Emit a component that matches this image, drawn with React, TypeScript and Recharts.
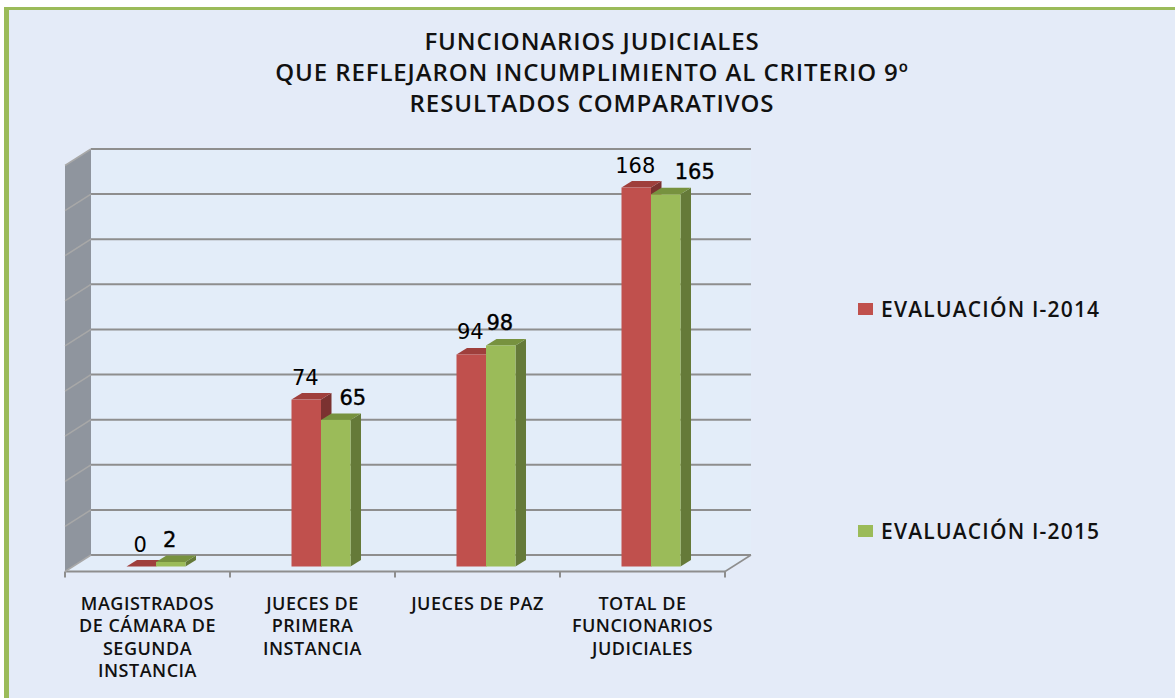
import { BarChart, Bar, XAxis, YAxis, CartesianGrid, LabelList, Legend, ReferenceArea } from 'recharts'

const categories = [
  ['MAGISTRADOS', 'DE CÁMARA DE', 'SEGUNDA', 'INSTANCIA'],
  ['JUECES DE', 'PRIMERA', 'INSTANCIA'],
  ['JUECES DE PAZ'],
  ['TOTAL DE', 'FUNCIONARIOS', 'JUDICIALES'],
]
const evaluacion2014 = [0, 74, 94, 168]
const evaluacion2015 = [2, 65, 98, 165]
const yTicks = [0, 20, 40, 60, 80, 100, 120, 140, 160, 180]
const titleLines = [
  'FUNCIONARIOS JUDICIALES',
  'QUE REFLEJARON INCUMPLIMIENTO AL CRITERIO 9º',
  'RESULTADOS COMPARATIVOS',
]

const rows = categories.map((lines, i) => ({
  name: lines.join(' '),
  e2014: evaluacion2014[i],
  e2015: evaluacion2015[i],
}))

const FONT = '"Open Sans", sans-serif'
const TEXT_COLOR = '#111'
const RED = { front: '#c0504d', top: '#9f3f3c', side: '#7b3230' }
const GREEN = { front: '#9bbb59', top: '#77923f', side: '#657a39' }

// the bars stand mid-way in the fake 3D box: back wall is up-right of them,
// the front edge of the floor down-left
const BACK_DX = 17.5
const BACK_DY = -11.5
const FRONT_DX = -8.5
const FRONT_DY = 5
const BAR_DX = 10.5
const BAR_DY = 6.5
const GRID_COLOR = '#8e8e8e'

// hand-moved data labels in the original, by category index
const SHIFT_2015: Record<number, number> = { 1: 18, 3: 30 }

function Box3D({ x, y, width, height }: any) {
  const bottom = y + height
  const backL = x + BACK_DX
  const backR = x + width + BACK_DX
  const frontL = x + FRONT_DX
  const frontR = x + width + FRONT_DX
  const backB = bottom + BACK_DY
  const backT = y + BACK_DY
  const frontB = bottom + FRONT_DY
  return (
    <g>
      <polygon points={`${backL},${backT} ${backR},${backT} ${backR},${backB} ${frontR},${frontB} ${frontL},${frontB} ${backL},${backB}`} fill="#e3edf9" />
      <polygon points={`${frontL},${y + FRONT_DY} ${backL},${backT} ${backL},${backB} ${frontL},${frontB}`} fill="#8f959e" />
      <line x1={frontL} y1={frontB} x2={frontR} y2={frontB} stroke={GRID_COLOR} strokeWidth={2} />
      <line x1={frontR} y1={frontB} x2={backR} y2={backB} stroke={GRID_COLOR} strokeWidth={1.5} />
      {[0, 1, 2, 3, 4].map((k) => {
        const tx = frontL + (k * width) / 4
        return <line key={k} x1={tx} y1={frontB} x2={tx} y2={frontB + 6} stroke={GRID_COLOR} strokeWidth={2} />
      })}
    </g>
  )
}

function GridLine({ x1, y1, x2, y2 }: any) {
  return (
    <g>
      <line x1={x1 + BACK_DX} y1={y1 + BACK_DY} x2={x2 + BACK_DX} y2={y2 + BACK_DY} stroke={GRID_COLOR} strokeWidth={2} />
      <line x1={x1 + FRONT_DX} y1={y1 + FRONT_DY} x2={x1 + BACK_DX} y2={y1 + BACK_DY} stroke="#a8a8a8" strokeWidth={1.5} />
    </g>
  )
}

function Bar3D({ x, y, width, height, colors }: any) {
  const r = x + width
  const b = y + height
  return (
    <g>
      <polygon points={`${r},${y} ${r + BAR_DX},${y - BAR_DY} ${r + BAR_DX},${b - BAR_DY} ${r},${b}`} fill={colors.side} />
      <polygon points={`${x},${y} ${x + BAR_DX},${y - BAR_DY} ${r + BAR_DX},${y - BAR_DY} ${r},${y}`} fill={colors.top} />
      <rect x={x} y={y} width={width} height={height} fill={colors.front} />
    </g>
  )
}

function ValueLabel({ x, y, width, value, index, shifts, heavy }: any) {
  const dx = shifts?.[index] ?? 0
  return (
    <text
      x={x + width / 2 + dx - 1}
      y={y - 15}
      textAnchor="middle"
      fontFamily='"DejaVu Sans", sans-serif'
      fontSize={21}
      fill="#000"
      stroke={heavy ? '#000' : 'none'}
      strokeWidth={heavy ? 0.4 : 0}
    >
      {value}
    </text>
  )
}

function CategoryTick({ x, y, index }: any) {
  const lines = categories[index] ?? []
  return (
    <text textAnchor="middle" fontFamily={FONT} fontSize={18} fontWeight={600} letterSpacing={0.5} fill={TEXT_COLOR}>
      {lines.map((line, i) => (
        <tspan key={line} x={x - 8.5} y={y + 35 + i * 22.5}>
          {line}
        </tspan>
      ))}
    </text>
  )
}

function LegendBox() {
  const items = [
    { label: 'EVALUACIÓN I-2014', color: RED.front, top: 300 },
    { label: 'EVALUACIÓN I-2015', color: GREEN.front, top: 522 },
  ]
  return (
    <div>
      {items.map((it) => (
        <div
          key={it.label}
          style={{ position: 'absolute', left: 0, top: it.top, display: 'flex', alignItems: 'center', height: 18, whiteSpace: 'nowrap' }}
        >
          <span style={{ width: 15, height: 12, background: it.color, marginRight: 8 }} />
          <span style={{ fontFamily: FONT, fontSize: 21, fontWeight: 600, letterSpacing: 1.2, color: TEXT_COLOR }}>{it.label}</span>
        </div>
      ))}
    </div>
  )
}

export default function App() {
  return (
    <div style={{ position: 'absolute', left: 0, top: 0, width: 1175, height: 698, overflow: 'hidden', background: '#fff' }}>
      <div style={{ position: 'absolute', left: 4, top: 7, right: 0, bottom: 0, background: '#e4ebf8', borderLeft: '5px solid #9bbb59', borderTop: '3px solid #9bbb59' }} />
      <div style={{ position: 'absolute', left: 0, top: 25, width: 1184, textAlign: 'center', fontFamily: FONT, fontSize: 24, fontWeight: 600, letterSpacing: 0.9, lineHeight: '31px', color: TEXT_COLOR }}>
        {titleLines.map((line) => (
          <div key={line}>{line}</div>
        ))}
      </div>
      <BarChart
        width={1175}
        height={698}
        data={rows}
        margin={{ top: 160.5, right: 441.5, bottom: 0, left: 73.5 }}
        barSize={29.5}
        barGap={0}
        style={{ position: 'absolute', left: 0, top: 0 }}
      >
        <XAxis dataKey="name" height={131.5} axisLine={false} tickLine={false} interval={0} tick={<CategoryTick />} />
        <YAxis hide domain={[0, 180]} ticks={yTicks} />
        <ReferenceArea y1={0} y2={180} shape={<Box3D />} ifOverflow="visible" zIndex={-200} />
        <CartesianGrid vertical={false} horizontal={(props: any) => <GridLine key={props.key} {...props} />} />
        <Legend content={<LegendBox />} wrapperStyle={{ position: 'absolute', left: 858, top: 0, width: 300, height: 0, bottom: 'auto' }} />
        <Bar dataKey="e2014" name="EVALUACIÓN I-2014" isAnimationActive={false} shape={<Bar3D colors={RED} />}>
          <LabelList dataKey="e2014" content={<ValueLabel />} />
        </Bar>
        <Bar dataKey="e2015" name="EVALUACIÓN I-2015" isAnimationActive={false} shape={<Bar3D colors={GREEN} />}>
          <LabelList dataKey="e2015" content={<ValueLabel shifts={SHIFT_2015} heavy />} />
        </Bar>
      </BarChart>
    </div>
  )
}
